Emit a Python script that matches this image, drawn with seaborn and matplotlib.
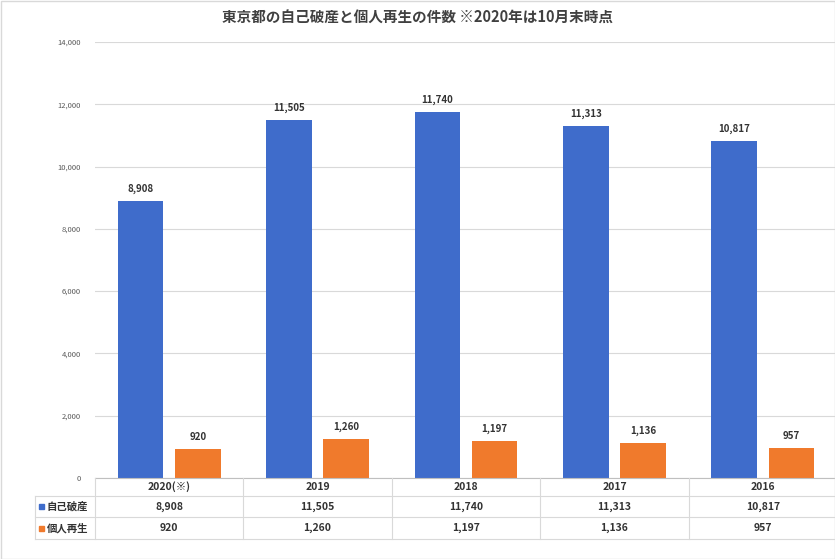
import matplotlib
matplotlib.use("Agg")
import matplotlib.pyplot as plt
import matplotlib.transforms as mtrans
from matplotlib.patches import Rectangle
import seaborn as sns
import pandas as pd

categories = ["2020(※)", "2019", "2018", "2017", "2016"]
series_names = ["自己破産", "個人再生"]
bankruptcy = [8908, 11505, 11740, 11313, 10817]
rehab = [920, 1260, 1197, 1136, 957]
yticks = [0, 2000, 4000, 6000, 8000, 10000, 12000, 14000]
colors = ["#3F6CCB", "#F07A2C"]

plt.rcParams["font.family"] = "Noto Sans CJK JP"
W, H = 835, 559
fig = plt.figure(figsize=(W/100, H/100), dpi=100)
ax = fig.add_axes([95/W, 1-478/H, 742/W, (478-42)/H])

df = pd.DataFrame({
    "cat": categories*2,
    "series": [series_names[0]]*5 + [series_names[1]]*5,
    "val": bankruptcy + rehab,
})
sns.barplot(data=df, x="cat", y="val", hue="series", palette=colors, width=0.77,
            gap=0.2, ax=ax, legend=False, saturation=1)
ax.set_xlim(-0.5, 4.5)
ax.set_ylim(0, 14000)
ax.set_yticks(yticks)
ax.set_yticklabels([f"{v:,}" for v in yticks], fontsize=5.5, color="#595959")
ax.set_xticks([])
ax.set_xlabel(""); ax.set_ylabel("")
ax.grid(axis="y", color="#D9D9D9", linewidth=0.8)
ax.set_axisbelow(True)
for s in ["top", "right", "left"]:
    ax.spines[s].set_visible(False)
ax.spines["bottom"].set_color("#BFBFBF")
ax.tick_params(axis="y", length=0, pad=10)

for cont in ax.containers:
    for bar in cont:
        h = bar.get_height()
        ax.annotate(f"{int(round(h)):,}", (bar.get_x()+bar.get_width()/2, h),
                    xytext=(0, 5), textcoords="offset points", ha="center",
                    va="bottom", fontsize=7, fontweight="bold", color="#333333")

fig.text(0.5, 1-18/H, "東京都の自己破産と個人再生の件数 ※2020年は10月末時点",
         ha="center", va="center", fontsize=10.5, fontweight="bold", color="#404040")

# data table
bt = mtrans.blended_transform_factory(ax.transData, fig.transFigure)
fy = lambda y: 1-y/H
lc = "#D9D9D9"
rows_y = [478, 496, 517, 539]
for y in rows_y[1:]:
    fig.add_artist(plt.Line2D([35/W, 837/W], [fy(y), fy(y)], color=lc, lw=0.8))
fig.add_artist(plt.Line2D([35/W, 35/W], [fy(496), fy(539)], color=lc, lw=0.8))
for i in range(6):
    x = i-0.5
    fig.add_artist(plt.Line2D([x, x], [fy(478), fy(539)], color=lc, lw=0.8, transform=bt))
for i, c in enumerate(categories):
    fig.text(i, fy(487), c, transform=bt, ha="center", va="center", fontsize=7.5,
             fontweight="bold", color="#333333")
    fig.text(i, fy(506.5), f"{bankruptcy[i]:,}", transform=bt, ha="center", va="center",
             fontsize=7.5, fontweight="bold", color="#333333")
    fig.text(i, fy(528), f"{rehab[i]:,}", transform=bt, ha="center", va="center",
             fontsize=7.5, fontweight="bold", color="#333333")
for j, (name, col, yc) in enumerate(zip(series_names, colors, [506.5, 528])):
    fig.add_artist(Rectangle((39/W, fy(yc)-2.5/H), 5/W, 5/H, color=col))
    fig.text(47/W, fy(yc), name, ha="left", va="center", fontsize=7.5,
             fontweight="bold", color="#333333")

fig.add_artist(Rectangle((0.5/W, 0.5/H), 1-1/W, 1-1/H, fill=False, ec="#D9D9D9", lw=1))
fig.savefig("out.png", dpi=100)
